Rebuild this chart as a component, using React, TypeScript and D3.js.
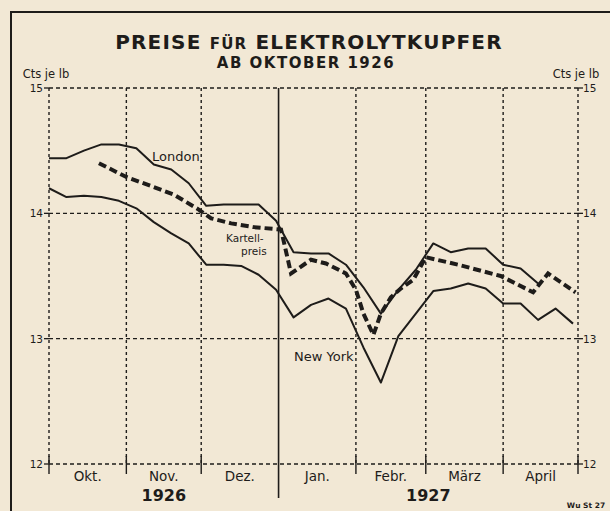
import React from "react";
import * as d3 from "d3";

// Weekly quotation dates (London and New York)
const weekDates = [
  "1926-10-01", "1926-10-08", "1926-10-15", "1926-10-22", "1926-10-29",
  "1926-11-05", "1926-11-12", "1926-11-19", "1926-11-26", "1926-12-03",
  "1926-12-10", "1926-12-17", "1926-12-24", "1926-12-31", "1927-01-07",
  "1927-01-14", "1927-01-21", "1927-01-28", "1927-02-04", "1927-02-11",
  "1927-02-18", "1927-02-25", "1927-03-04", "1927-03-11", "1927-03-18",
  "1927-03-25", "1927-04-01", "1927-04-08", "1927-04-15", "1927-04-22",
  "1927-04-29",
];

// London (Cts je lb), 29 weekly values
const londonValues = [
  14.44, 14.44, 14.5, 14.55, 14.55, 14.52, 14.39, 14.35, 14.24, 14.06,
  14.07, 14.07, 14.07, 13.94, 13.69, 13.68, 13.68, 13.59, 13.41, 13.2,
  13.39, 13.55, 13.76, 13.69, 13.72, 13.72, 13.59, 13.56, 13.44,
];

// New York (Cts je lb), 31 weekly values
const newYorkValues = [
  14.2, 14.13, 14.14, 14.13, 14.1, 14.04, 13.93, 13.84, 13.76, 13.59,
  13.59, 13.58, 13.51, 13.39, 13.17, 13.27, 13.32, 13.24, 12.93, 12.65,
  13.02, 13.2, 13.38, 13.4, 13.44, 13.4, 13.28, 13.28, 13.15, 13.24,
  13.12,
];

// Kartellpreis (Cts je lb)
const kartellDates = [
  "1926-10-21", "1926-11-01", "1926-11-12", "1926-11-20", "1926-11-30",
  "1926-12-05", "1926-12-13", "1926-12-22", "1927-01-02", "1927-01-06",
  "1927-01-14", "1927-01-20", "1927-01-28", "1927-02-01", "1927-02-04",
  "1927-02-08", "1927-02-11", "1927-02-15", "1927-02-19", "1927-02-24",
  "1927-03-01", "1927-03-14", "1927-03-31", "1927-04-13", "1927-04-19",
  "1927-04-30",
];
const kartellValues = [
  14.4, 14.29, 14.21, 14.15, 14.03, 13.96, 13.92, 13.89, 13.87, 13.52,
  13.63, 13.6, 13.52, 13.39, 13.2, 13.03, 13.2, 13.33, 13.4, 13.47,
  13.65, 13.59, 13.5, 13.37, 13.52, 13.37,
];

const monthStarts = [
  "1926-10-01", "1926-11-01", "1926-12-01", "1927-01-01",
  "1927-02-01", "1927-03-01", "1927-04-01", "1927-05-01",
];
const monthLabels = ["Okt.", "Nov.", "Dez.", "Jan.", "Febr.", "März", "April"];
const yearBoundary = "1927-01-01";
const yearLabels = ["1926", "1927"];
const yearLabelDates = ["1926-11-16", "1927-03-02"];
const yTicks = [12, 13, 14, 15];

const FONT = "'DejaVu Sans', sans-serif";
const INK = "#1e1c1a";
const PAPER = "#f2e8d5";

export default function App() {
  const W = 610;
  const H = 511;
  const parse = d3.utcParse("%Y-%m-%d");
  const x = d3
    .scaleUtc()
    .domain([parse("1926-10-01")!, parse("1927-05-01")!])
    .range([49, 578]);
  const y = d3.scaleLinear().domain([12, 15]).range([464, 88]);

  const line = d3
    .line<[Date, number]>()
    .x((d) => x(d[0]))
    .y((d) => y(d[1]));

  const london: [Date, number][] = londonValues.map((v, i) => [parse(weekDates[i])!, v]);
  const newYork: [Date, number][] = newYorkValues.map((v, i) => [parse(weekDates[i])!, v]);
  const kartell: [Date, number][] = kartellValues.map((v, i) => [parse(kartellDates[i])!, v]);

  const months = monthStarts.map((d) => parse(d)!);
  const yb = parse(yearBoundary)!;
  const x0 = x.range()[0];
  const x1 = x.range()[1];

  return (
    <svg
      width={W}
      height={H}
      viewBox={`0 0 ${W} ${H}`}
      style={{ position: "absolute", left: 0, top: 0, background: PAPER }}
    >
      <rect x={0} y={0} width={W} height={H} fill={PAPER} />
      {/* frame */}
      <line x1={10} x2={W} y1={12} y2={12} stroke={INK} strokeWidth={2} />
      <line x1={11} x2={11} y1={12} y2={H} stroke={INK} strokeWidth={2} />

      {/* title */}
      <text x={309} y={49} textAnchor="middle" fontFamily={FONT} fontWeight={700} fill={INK} fontSize={20} letterSpacing={1.2}>
        <tspan>PREISE </tspan>
        <tspan fontSize={15}>FÜR</tspan>
        <tspan> ELEKTROLYTKUPFER</tspan>
      </text>
      <text x={306} y={68} textAnchor="middle" fontFamily={FONT} fontWeight={700} fill={INK} fontSize={15} letterSpacing={1.5}>
        AB OKTOBER 1926
      </text>
      <text x={46} y={78} textAnchor="middle" fontFamily={FONT} fill={INK} fontSize={11.5}>
        Cts je lb
      </text>
      <text x={576} y={78} textAnchor="middle" fontFamily={FONT} fill={INK} fontSize={11.5}>
        Cts je lb
      </text>

      {/* horizontal grid */}
      {yTicks.map((t) => (
        <g key={"h" + t}>
          <line x1={x0} x2={x1} y1={y(t)} y2={y(t)} stroke={INK} strokeWidth={1.3} strokeDasharray="4 3" />
          <line x1={x0 - 5} x2={x0} y1={y(t)} y2={y(t)} stroke={INK} strokeWidth={1.3} />
          <line x1={x1} x2={x1 + 5} y1={y(t)} y2={y(t)} stroke={INK} strokeWidth={1.3} />
          <text x={x0 - 6} y={y(t) + 4} textAnchor="end" fontFamily={FONT} fontSize={10.5} fill={INK}>
            {t}
          </text>
          <text x={x1 + 5} y={y(t) + 4} textAnchor="start" fontFamily={FONT} fontSize={10.5} fill={INK}>
            {t}
          </text>
        </g>
      ))}

      {/* vertical grid */}
      {months.map((m, i) => {
        const isYear = +m === +yb;
        return (
          <g key={"v" + i}>
            {isYear ? (
              <line x1={x(m)} x2={x(m)} y1={y(15)} y2={498} stroke={INK} strokeWidth={1.6} />
            ) : (
              <>
                <line x1={x(m)} x2={x(m)} y1={y(15)} y2={y(12)} stroke={INK} strokeWidth={1.4} strokeDasharray="3 3" />
                <line x1={x(m)} x2={x(m)} y1={y(12) - 8} y2={y(12) + 10} stroke={INK} strokeWidth={1.4} />
              </>
            )}
          </g>
        );
      })}

      {/* month labels */}
      {monthLabels.map((lab, i) => (
        <text
          key={"m" + i}
          x={(x(months[i]) + x(months[i + 1])) / 2}
          y={481}
          textAnchor="middle"
          fontFamily={FONT}
          fontSize={13.5}
          fill={INK}
        >
          {lab}
        </text>
      ))}
      {yearLabels.map((lab, i) => (
        <text
          key={"y" + i}
          x={x(parse(yearLabelDates[i])!)}
          y={501}
          textAnchor="middle"
          fontFamily={FONT}
          fontWeight={700}
          fontSize={16}
          fill={INK}
        >
          {lab}
        </text>
      ))}

      {/* series */}
      <path d={line(london)!} fill="none" stroke={INK} strokeWidth={2} strokeLinejoin="round" />
      <path d={line(newYork)!} fill="none" stroke={INK} strokeWidth={2} strokeLinejoin="round" />
      <path d={line(kartell)!} fill="none" stroke={INK} strokeWidth={4} strokeDasharray="8 4" />

      {/* series labels */}
      <text x={152} y={161} fontFamily={FONT} fontSize={13} fill={INK}>London</text>
      <text x={226} y={242} fontFamily={FONT} fontSize={10.5} fill={INK}>Kartell-</text>
      <text x={241} y={255} fontFamily={FONT} fontSize={10.5} fill={INK}>preis</text>
      <text x={294} y={361} fontFamily={FONT} fontSize={13} fill={INK}>New York</text>

      <text x={586} y={508} textAnchor="middle" fontFamily={FONT} fontWeight={700} fontSize={7.5} fill={INK}>
        Wu St 27
      </text>
    </svg>
  );
}
